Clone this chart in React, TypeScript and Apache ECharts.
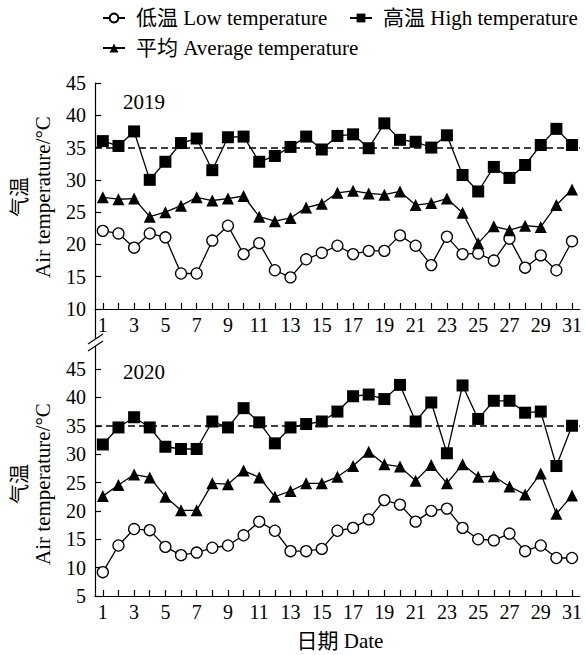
import React, { useEffect, useRef } from "react";
import * as echarts from "echarts";

const days = Array.from({ length: 31 }, (_, i) => String(i + 1));

const low2019 = [22.1, 21.7, 19.5, 21.7, 21.1, 15.5, 15.5, 20.6, 22.9, 18.5, 20.2, 16.0, 14.9, 17.7, 18.7, 19.8, 18.5, 19.0, 19.0, 21.4, 19.8, 16.8, 21.2, 18.5, 18.6, 17.5, 20.9, 16.4, 18.3, 16.0, 20.5];
const high2019 = [36.0, 35.25, 37.5, 30.0, 32.8, 35.7, 36.4, 31.5, 36.6, 36.7, 32.8, 33.7, 35.1, 36.7, 34.7, 36.8, 37.05, 34.9, 38.75, 36.2, 35.9, 35.0, 36.9, 30.75, 28.2, 32.0, 30.3, 32.3, 35.4, 37.9, 35.4];
const avg2019 = [27.3, 27.0, 27.1, 24.3, 25.0, 26.0, 27.3, 26.8, 27.1, 27.5, 24.3, 23.6, 24.1, 25.7, 26.3, 28.0, 28.3, 27.9, 27.7, 28.2, 26.1, 26.4, 27.1, 24.9, 20.2, 22.8, 22.2, 22.9, 22.7, 26.1, 28.5];

const low2020 = [9.2, 13.9, 16.8, 16.6, 13.65, 12.2, 12.65, 13.5, 13.9, 15.7, 18.1, 16.5, 12.9, 12.9, 13.3, 16.5, 17.0, 18.5, 21.9, 21.1, 18.1, 20.0, 20.4, 17.0, 15.0, 14.8, 16.0, 12.9, 13.9, 11.7, 11.7];
const high2020 = [31.7, 34.7, 36.5, 34.7, 31.3, 30.9, 30.9, 35.75, 34.7, 38.1, 35.6, 31.9, 34.7, 35.3, 35.75, 37.5, 40.2, 40.5, 39.7, 42.2, 35.75, 39.1, 30.15, 42.1, 36.2, 39.4, 39.4, 37.3, 37.5, 27.9, 35.0];
const avg2020 = [22.6, 24.55, 26.4, 25.9, 22.5, 20.1, 20.1, 24.85, 24.7, 27.1, 25.9, 22.5, 23.5, 24.85, 24.85, 26.0, 27.9, 30.4, 28.2, 27.8, 25.3, 28.1, 24.85, 28.2, 26.0, 26.1, 24.3, 22.9, 26.6, 19.5, 22.7];

const threshold = 35;
const yearLabels = ["2019", "2020"];
const seriesNames = ["低温 Low temperature", "高温 High temperature", "平均 Average temperature"];

const FONT = "'Liberation Serif', 'Times New Roman', 'Noto Sans CJK SC', serif";

export default function App() {
  const ref = useRef<HTMLDivElement>(null);
  useEffect(() => {
    if (!ref.current) return;
    document.body.style.margin = "0";
    const chart = echarts.init(ref.current, null, { renderer: "svg" });

    const grids = [
      { left: 95, right: 3, top: 83, height: 226 },
      { left: 95, right: 3, top: 369, height: 227 },
    ];
    const mins = [10, 5];

    const xAxis = grids.map((_, i) => ({
      type: "category",
      gridIndex: i,
      data: days,
      boundaryGap: true,
      axisLine: { lineStyle: { color: "#000", width: 1.2 } },
      axisTick: { show: true, inside: true, length: 6, alignWithLabel: true, interval: 0, lineStyle: { color: "#000", width: 1.2 } },
      axisLabel: { interval: 1, color: "#000", fontSize: 20, fontFamily: FONT, margin: 6 },
      splitLine: { show: false },
    }));

    const yAxis = grids.map((_, i) => ({
      type: "value",
      gridIndex: i,
      min: mins[i],
      max: 45,
      interval: 5,
      axisLine: { show: true, lineStyle: { color: "#000", width: 1.2 } },
      axisTick: { show: true, inside: true, length: 6, lineStyle: { color: "#000", width: 1.2 } },
      axisLabel: { color: "#000", fontSize: 20, fontFamily: FONT, margin: 9 },
      splitLine: { show: false },
    }));

    const panelData = [
      [low2019, high2019, avg2019],
      [low2020, high2020, avg2020],
    ];
    const symbols = ["circle", "rect", "triangle"];
    const sizes = [11, 12, 12];

    const series: any[] = [];
    panelData.forEach((arrs, p) => {
      series.push({
        type: "line",
        xAxisIndex: p,
        yAxisIndex: p,
        data: [],
        z: 1,
        silent: true,
        markLine: {
          silent: true,
          symbol: ["none", "none"],
          label: { show: false },
          lineStyle: { color: "#000", width: 1.5, type: [7, 4] },
          data: [{ yAxis: threshold }],
        },
      });
      arrs.forEach((arr, k) => {
        series.push({
          name: seriesNames[k],
          type: "line",
          xAxisIndex: p,
          yAxisIndex: p,
          data: arr,
          z: 3,
          symbol: symbols[k],
          symbolSize: sizes[k],
          showAllSymbol: true,
          lineStyle: { color: "#000", width: 1.3 },
          itemStyle: { color: k === 0 ? "#fff" : "#000", borderColor: "#000", borderWidth: k === 0 ? 1.3 : 0 },
        });
      });
    });

    const legendText = { color: "#000", fontSize: 21, lineHeight: 22, fontFamily: FONT, padding: [0, 0, 0, 6] };
    const legendBase = { itemWidth: 22, itemHeight: 11, padding: 0, textStyle: legendText, selectedMode: false };

    const graphic: any[] = [
      { type: "text", left: 123, top: 91, style: { text: yearLabels[0], fontSize: 21, fontFamily: FONT, fill: "#000" } },
      { type: "text", left: 123, top: 361, style: { text: yearLabels[1], fontSize: 21, fontFamily: FONT, fill: "#000" } },
      { type: "text", x: 340, y: 641, style: { text: "日期 Date", fontSize: 21, fontFamily: FONT, fill: "#000", textAlign: "center", textVerticalAlign: "middle" } },
    ];
    const labelCenters = [197, 484];
    labelCenters.forEach((cy) => {
      graphic.push({ type: "text", x: 20, y: cy, rotation: Math.PI / 2, style: { text: "气温", fontSize: 20, fontFamily: FONT, fill: "#000", textAlign: "center", textVerticalAlign: "middle" } });
      graphic.push({ type: "text", x: 43, y: cy, rotation: Math.PI / 2, style: { text: "Air temperature/°C", fontSize: 21, fontFamily: FONT, fill: "#000", textAlign: "center", textVerticalAlign: "middle" } });
    });
    // axis break
    graphic.push({ type: "line", shape: { x1: 95.5, y1: 309, x2: 95.5, y2: 339 }, style: { stroke: "#000", lineWidth: 1.2 } });
    graphic.push({ type: "line", shape: { x1: 95.5, y1: 346, x2: 95.5, y2: 369 }, style: { stroke: "#000", lineWidth: 1.2 } });
    graphic.push({ type: "line", shape: { x1: 88, y1: 344, x2: 103, y2: 334 }, style: { stroke: "#000", lineWidth: 1.2 } });
    graphic.push({ type: "line", shape: { x1: 88, y1: 351, x2: 103, y2: 341 }, style: { stroke: "#000", lineWidth: 1.2 } });

    chart.setOption({
      animation: false,
      backgroundColor: "#fff",
      legend: [
        { ...legendBase, data: [seriesNames[0]], left: 102, top: 7 },
        { ...legendBase, data: [seriesNames[1]], left: 349, top: 7 },
        { ...legendBase, data: [seriesNames[2]], left: 102, top: 37 },
      ],
      grid: grids,
      xAxis,
      yAxis,
      series,
      graphic,
    });
    return () => chart.dispose();
  }, []);
  return <div ref={ref} style={{ width: 585, height: 655 }} />;
}
